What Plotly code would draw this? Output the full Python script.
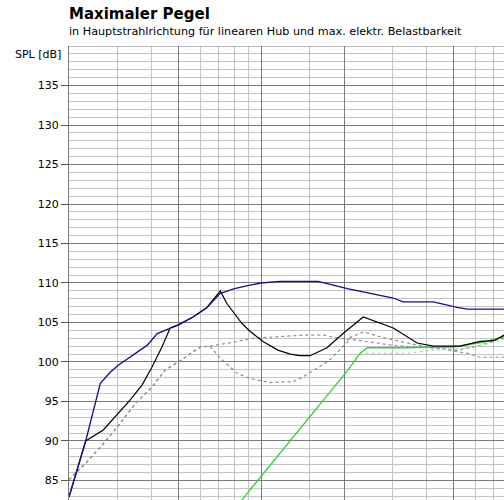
import math
import plotly.graph_objects as go

# ---- data (frequency in Hz, SPL in dB) ----
blue_f = [40, 46, 52, 56.5, 60.4, 68.4, 76.9, 83.7, 88, 93.3, 100, 113, 127, 142,
          160, 180, 200, 234, 322, 411, 604, 656, 844, 1031, 1121, 1530]
blue_db = [82.9, 90.0, 97.3, 98.7, 99.6, 100.9, 102.1, 103.6, 103.9, 104.2, 104.7, 105.7, 106.9, 108.7,
           109.3, 109.7, 110.0, 110.2, 110.2, 109.3, 108.1, 107.6, 107.6, 106.9, 106.7, 106.7]

black_f = [40, 46, 53.3, 60.4, 66.8, 73.8, 80, 87.1, 93.3, 100, 113, 127, 137, 142, 150, 170,
           182, 203, 230, 255, 277, 301, 347, 397, 470, 604, 738, 844, 1057, 1251, 1400, 1530]
black_db = [82.9, 90.0, 91.4, 93.5, 95.2, 97.1, 99.3, 101.9, 104.3, 104.7, 105.7, 106.9, 108.4, 109.0, 107.4, 104.9,
            103.9, 102.6, 101.5, 101.0, 100.8, 100.8, 101.8, 103.6, 105.7, 104.3, 102.4, 102.0, 102.0, 102.6, 102.7, 103.4]

gray_f = [40, 46, 52, 60, 70, 80, 89.5, 100, 120, 130, 142, 163, 182, 215, 261, 277, 319, 356, 411, 421,
          470, 555, 679, 802, 1031, 1220, 1530]
gray_db = [85.1, 87.2, 89.2, 91.8, 94.8, 96.8, 99.0, 100.0, 101.9, 102.0, 100.5, 98.6, 97.9, 97.4, 97.5, 97.9, 99.2, 100.3, 102.5, 103.1,
           103.8, 103.1, 102.4, 101.9, 101.5, 102.0, 103.1]

lav_f = [40, 46, 52, 60, 70, 80, 89.5, 100, 120, 130, 158, 187, 284, 336, 387, 458, 604, 757, 894, 1121, 1251, 1530]
lav_db = [85.1, 87.2, 89.2, 91.8, 94.8, 96.8, 99.0, 100.0, 101.9, 102.0, 102.5, 103.0, 103.4, 103.4, 103.0, 102.7, 102.1, 101.9, 101.7, 101.1, 100.6, 100.6]

green_f = [160, 182, 414, 458, 486, 679, 872, 1000, 1282, 1530]
green_db = [81.3, 83.8, 99.0, 101.1, 101.8, 101.8, 101.9, 101.9, 102.5, 103.2]

pale_f = [440, 470, 679, 844, 1179, 1530]
pale_db = [100.4, 101.1, 101.1, 101.5, 101.8, 102.9]

y_major = [85, 90, 95, 100, 105, 110, 115, 120, 125, 130, 135]
x_major = [100, 200, 400, 1000]
x_minor = [40, 60, 80, 120, 140, 160, 180, 300, 600, 800, 1200, 1400]

title = "Maximaler Pegel"
subtitle = "in Hauptstrahlrichtung für linearen Hub und max. elektr. Belastbarkeit"
ylabel = "SPL [dB]"

FONT = "DejaVu Sans"
ML, MT = 69, 46
PLOT_W = 504 - ML
PLOT_H = 500 - MT

fig = go.Figure()
fig.add_trace(go.Scatter(x=gray_f, y=gray_db, mode="lines",
                         line=dict(color="#8a8a8a", width=1.2, dash="3px,3px")))
fig.add_trace(go.Scatter(x=lav_f, y=lav_db, mode="lines",
                         line=dict(color="#8c8cb4", width=1.2, dash="3px,3px")))
fig.add_trace(go.Scatter(x=pale_f, y=pale_db, mode="lines",
                         line=dict(color="#a8e0a8", width=1.2, dash="3px,3px")))
fig.add_trace(go.Scatter(x=green_f, y=green_db, mode="lines",
                         line=dict(color="#3ccc3c", width=1.3)))
fig.add_trace(go.Scatter(x=black_f, y=black_db, mode="lines",
                         line=dict(color="#000000", width=1.2)))
fig.add_trace(go.Scatter(x=blue_f, y=blue_db, mode="lines",
                         line=dict(color="#10108c", width=1.3)))

x0 = math.log10(40)
x1 = x0 + PLOT_W / 275.0

fig.update_layout(
    width=504, height=500,
    margin=dict(l=ML, r=0, t=MT, b=0, pad=0),
    paper_bgcolor="white", plot_bgcolor="white",
    showlegend=False,
    font=dict(family=FONT, size=11, color="#000000"),
    xaxis=dict(type="log", range=[x0, x1], tickmode="array", tickvals=x_major,
               showticklabels=False, ticks="", showgrid=True, gridcolor="#7a7a7a", gridwidth=1,
               zeroline=False, showline=False,
               minor=dict(tickmode="array", tickvals=x_minor, showgrid=True,
                          gridcolor="#c4c4c4", gridwidth=1, ticks="")),
    yaxis=dict(range=[82.53, 140.0], tickmode="array", tickvals=y_major,
               ticks="outside", ticklen=7, tickcolor="#555555", tickwidth=1,
               showgrid=True, gridcolor="#7a7a7a", gridwidth=1,
               zeroline=False, showline=True, linecolor="#7a7a7a", linewidth=1,
               tickfont=dict(family=FONT, size=11, color="#000000"),
               minor=dict(dtick=1, tick0=0, showgrid=True, gridcolor="#c4c4c4", gridwidth=1, ticks="")),
)

fig.add_shape(type="line", xref="paper", yref="y", x0=0, x1=1, y0=140, y1=140,
              line=dict(color="#7a7a7a", width=1))

fig.add_annotation(xref="paper", yref="paper", x=-2 / PLOT_W, y=1 + (MT - 14) / PLOT_H,
                   xanchor="left", yanchor="middle",
                   text="<b>" + title + "</b>", showarrow=False,
                   font=dict(family=FONT, size=15, color="#000000"))
fig.add_annotation(xref="paper", yref="paper", x=-2 / PLOT_W, y=1 + (MT - 32) / PLOT_H,
                   xanchor="left", yanchor="middle",
                   text=subtitle, showarrow=False,
                   font=dict(family=FONT, size=11.2, color="#000000"))
fig.add_annotation(xref="paper", yref="paper", x=-6 / PLOT_W, y=1 - (54 - MT) / PLOT_H,
                   xanchor="right", yanchor="middle",
                   text=ylabel, showarrow=False,
                   font=dict(family=FONT, size=11, color="#000000"))

fig.write_html("out.html", config={"displayModeBar": False},
               post_script="document.body.style.margin='0px';")
